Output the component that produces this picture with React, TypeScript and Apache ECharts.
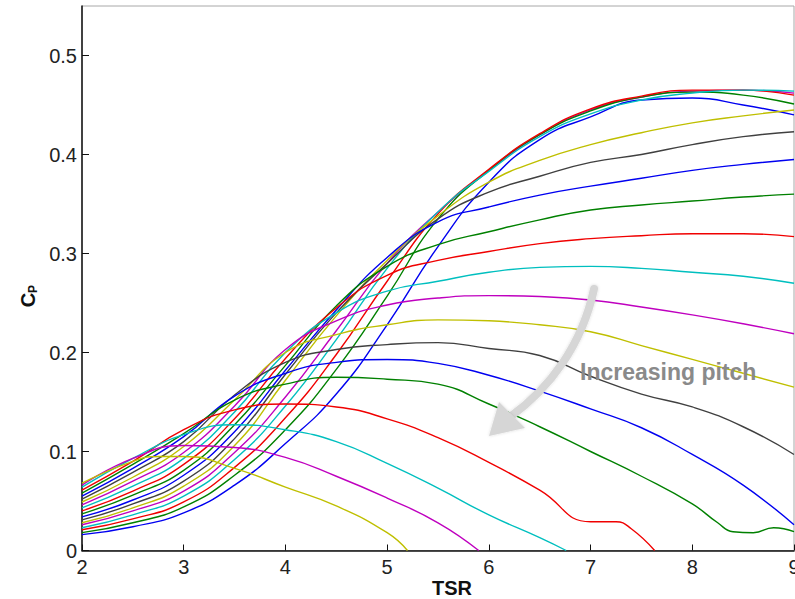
import React, { useEffect, useRef } from "react";
import * as echarts from "echarts";

// ---- data ----
const tsr = [2, 2.5, 3, 3.5, 4, 4.5, 5, 5.5, 6, 6.5, 7, 7.5, 8, 8.5, 9];

const cp01 = [0.016, 0.024, 0.038, 0.066, 0.108, 0.158, 0.228, 0.307, 0.372, 0.415, 0.438, 0.455, 0.457, 0.45, 0.44];
const cp02 = [0.018, 0.028, 0.044, 0.076, 0.122, 0.183, 0.257, 0.335, 0.384, 0.42, 0.444, 0.458, 0.463, 0.46, 0.451];
const cp03 = [0.021, 0.032, 0.049, 0.084, 0.134, 0.198, 0.272, 0.34, 0.385, 0.421, 0.446, 0.459, 0.465, 0.465, 0.46];
const cp04 = [0.023, 0.036, 0.055, 0.092, 0.146, 0.213, 0.285, 0.342, 0.383, 0.418, 0.441, 0.455, 0.462, 0.465, 0.464];
const cp05 = [0.026, 0.04, 0.06, 0.099, 0.155, 0.222, 0.29, 0.342, 0.384, 0.42, 0.445, 0.458, 0.464, 0.465, 0.462];
const cp06 = [0.028, 0.043, 0.065, 0.106, 0.172, 0.237, 0.293, 0.338, 0.372, 0.394, 0.41, 0.422, 0.432, 0.439, 0.445];
const cp07 = [0.031, 0.047, 0.07, 0.113, 0.178, 0.24, 0.29, 0.335, 0.362, 0.378, 0.392, 0.4, 0.41, 0.418, 0.423];
const cp08 = [0.034, 0.051, 0.076, 0.12, 0.182, 0.243, 0.296, 0.332, 0.347, 0.359, 0.368, 0.376, 0.384, 0.39, 0.395];
const cp09 = [0.037, 0.056, 0.081, 0.127, 0.187, 0.247, 0.287, 0.309, 0.322, 0.334, 0.344, 0.349, 0.353, 0.357, 0.36];
const cp10 = [0.04, 0.06, 0.087, 0.133, 0.194, 0.245, 0.278, 0.293, 0.302, 0.31, 0.315, 0.318, 0.32, 0.32, 0.317];
const cp11 = [0.043, 0.065, 0.093, 0.14, 0.2, 0.24, 0.262, 0.272, 0.281, 0.286, 0.287, 0.285, 0.281, 0.277, 0.27];
const cp12 = [0.046, 0.07, 0.099, 0.146, 0.203, 0.232, 0.248, 0.255, 0.2575, 0.2565, 0.253, 0.246, 0.238, 0.229, 0.219];
const cp13 = [0.049, 0.074, 0.105, 0.152, 0.2, 0.218, 0.228, 0.233, 0.232, 0.228, 0.221, 0.207, 0.193, 0.179, 0.165];
const cp14 = [0.052, 0.079, 0.11, 0.157, 0.19, 0.203, 0.208, 0.21, 0.204, 0.197, 0.176, 0.158, 0.145, 0.125, 0.097];
const cp15 = [0.055, 0.083, 0.115, 0.156, 0.179, 0.19, 0.193, 0.189, 0.177, 0.161, 0.143, 0.124, 0.097, 0.066, 0.026];

const tsr16 = [2, 2.5, 3, 3.5, 4, 4.5, 5, 5.5, 6, 6.5, 7, 7.5, 8, 8.25, 8.4, 8.6, 8.8, 9];
const cp16 = [0.058, 0.087, 0.118, 0.152, 0.168, 0.175, 0.173, 0.168, 0.148, 0.125, 0.1, 0.075, 0.047, 0.028, 0.019, 0.018, 0.023, 0.019];
const tsr17 = [2, 2.5, 3, 3.5, 4, 4.5, 5, 5.5, 6, 6.5, 7, 7.25, 7.4, 7.63];
const cp17 = [0.061, 0.09, 0.122, 0.142, 0.148, 0.145, 0.133, 0.114, 0.089, 0.061, 0.029, 0.029, 0.022, 0];
const tsr18 = [2, 2.5, 3, 3.5, 4, 4.5, 5, 5.5, 6, 6.5, 6.76];
const cp18 = [0.064, 0.093, 0.117, 0.127, 0.122, 0.11, 0.088, 0.063, 0.036, 0.013, 0];
const tsr19 = [2, 2.5, 3, 3.5, 4, 4.5, 5, 5.5, 5.9];
const cp19 = [0.066, 0.093, 0.106, 0.104, 0.094, 0.075, 0.053, 0.028, 0];
const tsr20 = [2, 2.5, 2.75, 3, 3.5, 4, 4.5, 5, 5.2];
const cp20 = [0.068, 0.09, 0.095, 0.095, 0.083, 0.064, 0.045, 0.018, 0];

const curves: [number[], number[]][] = [
  [tsr, cp01], [tsr, cp02], [tsr, cp03], [tsr, cp04], [tsr, cp05],
  [tsr, cp06], [tsr, cp07], [tsr, cp08], [tsr, cp09], [tsr, cp10],
  [tsr, cp11], [tsr, cp12], [tsr, cp13], [tsr, cp14], [tsr, cp15],
  [tsr16, cp16], [tsr17, cp17], [tsr18, cp18], [tsr19, cp19], [tsr20, cp20],
];

const xTicks = [2, 3, 4, 5, 6, 7, 8, 9];
const yTicks = [0, 0.1, 0.2, 0.3, 0.4, 0.5];

const lineColors = ["#0000f0", "#008000", "#f00000", "#00bfbf", "#bf00bf", "#bfbf00", "#404040"];

export default function App() {
  const ref = useRef<HTMLDivElement>(null);
  useEffect(() => {
    if (!ref.current) return;
    const chart = echarts.init(ref.current, undefined, { renderer: "svg" });
    const font = "'Liberation Sans', Arial, Helvetica, sans-serif";
    const series = curves.map(([xs, ys], i) => ({
      type: "line",
      name: "pitch " + (i + 1),
      data: xs.map((x, j) => [x, ys[j]]),
      showSymbol: false,
      smooth: 0.5,
      z: i === 4 ? 1 : 2,
      lineStyle: { color: lineColors[i % 7], width: 1.4 },
      itemStyle: { color: lineColors[i % 7] },
    }));
    chart.setOption({
      animation: false,
      backgroundColor: "#ffffff",
      grid: {
        left: 82, right: 1, top: 6, bottom: 48.5,
        outerBoundsMode: "none",
        containLabel: false,
        show: true, borderColor: "#a8a8a8", borderWidth: 1,
      },
      xAxis: {
        type: "value", min: xTicks[0], max: xTicks[xTicks.length - 1], interval: 1,
        axisLine: { lineStyle: { color: "#111", width: 1.5 } },
        axisTick: { inside: true, length: 6, lineStyle: { color: "#111" } },
        axisLabel: { margin: 6, fontSize: 20, color: "#222", fontFamily: font },
        splitLine: { show: false },
      },
      yAxis: {
        type: "value", min: yTicks[0], max: 0.55, interval: 0.1,
        axisLine: { show: true, lineStyle: { color: "#111", width: 1.5 } },
        axisTick: { show: true, inside: true, length: 7, lineStyle: { color: "#111" } },
        axisLabel: { margin: 5, fontSize: 20, color: "#222", fontFamily: font, showMaxLabel: false },
        splitLine: { show: false },
      },
      series,
      graphic: [
        {
          type: "group", x: 28, y: 300, rotation: Math.PI / 2, z: 100,
          children: [
            { type: "text", x: 0, y: 0, style: { text: "C", fontSize: 20, fontWeight: "bold", fontFamily: font, fill: "#111", align: "center", verticalAlign: "middle" } },
            { type: "text", x: 11, y: 5, style: { text: "P", fontSize: 12, fontWeight: "bold", fontFamily: font, fill: "#111", align: "center", verticalAlign: "middle" } },
          ],
        },
        {
          type: "text", x: 452, y: 588, z: 100,
          style: { text: "TSR", fontSize: 20, fontWeight: "bold", fontFamily: font, fill: "#111", align: "center", verticalAlign: "middle" },
        },
        {
          type: "bezierCurve", z: 100,
          shape: { x1: 594, y1: 289, cpx1: 582, cpy1: 345, cpx2: 550, cpy2: 388, x2: 510, y2: 417 },
          style: { stroke: "#d6d6d6", lineWidth: 8, lineCap: "round", fill: null, shadowBlur: 3, shadowColor: "rgba(0,0,0,0.15)" },
        },
        {
          type: "polygon", z: 100,
          shape: { points: [[489, 436], [499, 402], [525, 428]] },
          style: { fill: "#d6d6d6", shadowBlur: 3, shadowColor: "rgba(0,0,0,0.15)" },
        },
        {
          type: "text", x: 580, y: 372, z: 100,
          style: { text: "Increasing pitch", fontSize: 23, fontWeight: "bold", fontFamily: font, fill: "#8a8a8a", align: "left", verticalAlign: "middle", shadowBlur: 2, shadowColor: "rgba(0,0,0,0.2)" },
        },
      ],
    });
    return () => chart.dispose();
  }, []);
  return <div ref={ref} style={{ position: "fixed", left: 0, top: 0, width: 795, height: 599, background: "#fff" }} />;
}
